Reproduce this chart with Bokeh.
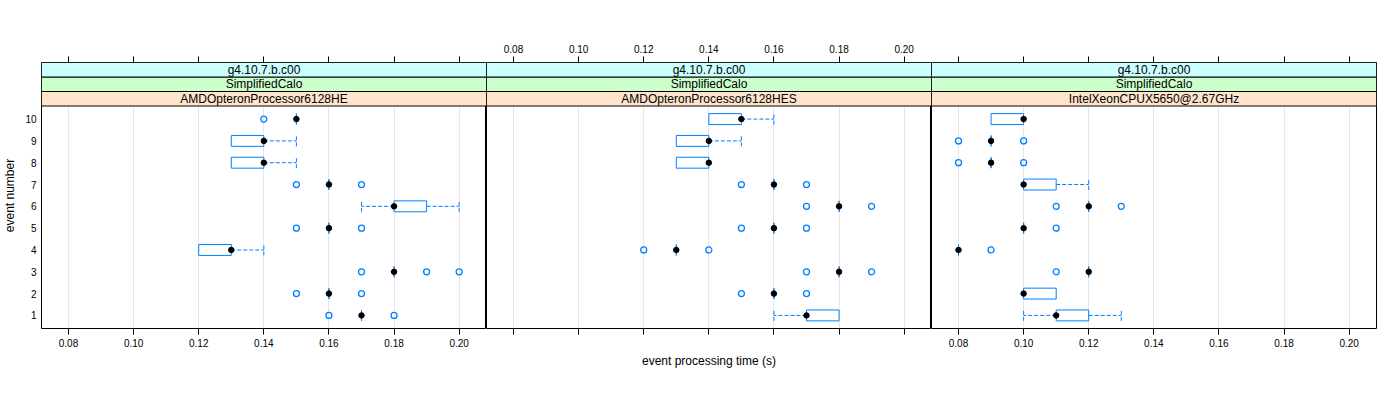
import numpy as np
from bokeh.plotting import figure
from bokeh.models import Range1d, FixedTicker, LinearAxis, PrintfTickFormatter, ColumnDataSource
from bokeh.layouts import row
from bokeh.embed import file_html
from bokeh.resources import INLINE
from bokeh.core.properties import value

# ---------------- data ----------------
events = [1, 2, 3, 4, 5, 6, 7, 8, 9, 10]
xticks = [0.08, 0.10, 0.12, 0.14, 0.16, 0.18, 0.20]
yticks = [1, 2, 3, 4, 5, 6, 7, 8, 9, 10]
strip_release = "g4.10.7.b.c00"
strip_test = "SimplifiedCalo"
processors = ["AMDOpteronProcessor6128HE", "AMDOpteronProcessor6128HES", "IntelXeonCPUX5650@2.67GHz"]
x_label = "event processing time (s)"
y_label = "event number"

# AMDOpteronProcessor6128HE
he_med = [0.17, 0.16, 0.18, 0.13, 0.16, 0.18, 0.16, 0.14, 0.14, 0.15]
he_q1 = [0.17, 0.16, 0.18, 0.12, 0.16, 0.18, 0.16, 0.13, 0.13, 0.15]
he_q3 = [0.17, 0.16, 0.18, 0.13, 0.16, 0.19, 0.16, 0.14, 0.14, 0.15]
he_wlo = [0.17, 0.16, 0.18, 0.12, 0.16, 0.17, 0.16, 0.13, 0.13, 0.15]
he_whi = [0.17, 0.16, 0.18, 0.14, 0.16, 0.20, 0.16, 0.15, 0.15, 0.15]
he_out_event = [1, 1, 2, 2, 3, 3, 3, 5, 5, 7, 7, 10]
he_out_time = [0.16, 0.18, 0.15, 0.17, 0.17, 0.19, 0.20, 0.15, 0.17, 0.15, 0.17, 0.14]

# AMDOpteronProcessor6128HES
hes_med = [0.17, 0.16, 0.18, 0.13, 0.16, 0.18, 0.16, 0.14, 0.14, 0.15]
hes_q1 = [0.17, 0.16, 0.18, 0.13, 0.16, 0.18, 0.16, 0.13, 0.13, 0.14]
hes_q3 = [0.18, 0.16, 0.18, 0.13, 0.16, 0.18, 0.16, 0.14, 0.14, 0.15]
hes_wlo = [0.16, 0.16, 0.18, 0.13, 0.16, 0.18, 0.16, 0.13, 0.13, 0.14]
hes_whi = [0.18, 0.16, 0.18, 0.13, 0.16, 0.18, 0.16, 0.14, 0.15, 0.16]
hes_out_event = [2, 2, 3, 3, 4, 4, 5, 5, 6, 6, 7, 7]
hes_out_time = [0.15, 0.17, 0.17, 0.19, 0.12, 0.14, 0.15, 0.17, 0.17, 0.19, 0.15, 0.17]

# IntelXeonCPUX5650@2.67GHz
xeon_med = [0.11, 0.10, 0.12, 0.08, 0.10, 0.12, 0.10, 0.09, 0.09, 0.10]
xeon_q1 = [0.11, 0.10, 0.12, 0.08, 0.10, 0.12, 0.10, 0.09, 0.09, 0.09]
xeon_q3 = [0.12, 0.11, 0.12, 0.08, 0.10, 0.12, 0.11, 0.09, 0.09, 0.10]
xeon_wlo = [0.10, 0.10, 0.12, 0.08, 0.10, 0.12, 0.10, 0.09, 0.09, 0.09]
xeon_whi = [0.13, 0.11, 0.12, 0.08, 0.10, 0.12, 0.12, 0.09, 0.09, 0.10]
xeon_out_event = [3, 4, 5, 6, 6, 8, 8, 9, 9]
xeon_out_time = [0.11, 0.09, 0.11, 0.11, 0.13, 0.08, 0.10, 0.08, 0.10]

# ---------------- styling / layout ----------------
FONT = "Liberation Sans"
BLUE = "#0080ff"
XMIN, XMAX = 0.0717, 0.2084
YMIN, YMAX_DATA = 0.4, 10.6
FRAME_W = 445
DATA_H = 222.5
STRIP_PX = 14.5
unit = DATA_H / (YMAX_DATA - YMIN)
strip_h = STRIP_PX / unit
YTOP = YMAX_DATA + 3 * strip_h
FRAME_H = int(round(DATA_H + 3 * STRIP_PX))
STRIP_COLORS = ["#ffe5cc", "#ccffcc", "#ccffff"]


def make_panel(idx, med, q1, q3, wlo, whi, oev, otime):
    left = idx == 0
    right = idx == 2
    p = figure(frame_width=FRAME_W, frame_height=FRAME_H,
               x_range=Range1d(XMIN, XMAX), y_range=Range1d(YMIN, YTOP),
               output_backend="svg", toolbar_location=None,
               x_axis_location=None, y_axis_location=None,
               min_border_left=40 if left else 0,
               min_border_right=8 if right else 0,
               min_border_top=62, min_border_bottom=68)
    p.outline_line_color = "black"
    p.outline_line_width = 1
    p.background_fill_color = "white"
    p.border_fill_color = "white"
    p.xgrid.ticker = FixedTicker(ticks=xticks)
    p.xgrid.grid_line_color = "#e6e6e6"
    p.ygrid.visible = False

    # axes
    for loc in ("below", "above"):
        ax = LinearAxis(ticker=FixedTicker(ticks=xticks),
                        formatter=PrintfTickFormatter(format="%.2f"))
        ax.axis_line_color = None
        ax.major_tick_in = 0
        ax.major_tick_out = 6
        ax.minor_tick_line_color = None
        ax.major_tick_line_color = "black"
        ax.major_label_text_font = FONT
        ax.major_label_text_font_size = "10px"
        ax.major_label_text_color = "black"
        ax.major_label_standoff = 4
        show_labels = (idx == 1) if loc == "above" else (idx != 1)
        if not show_labels:
            ax.major_label_text_alpha = 0
        if loc == "below" and idx == 1:
            ax.axis_label = x_label
            ax.axis_label_text_font = FONT
            ax.axis_label_text_font_size = "12px"
            ax.axis_label_text_font_style = "normal"
            ax.axis_label_text_color = "black"
            ax.axis_label_standoff = 19
        p.add_layout(ax, loc)
    if left:
        yax = LinearAxis(ticker=FixedTicker(ticks=yticks))
        yax.axis_line_color = None
        yax.major_tick_in = 0
        yax.major_tick_out = 0
        yax.minor_tick_line_color = None
        yax.major_label_standoff = 5
        yax.major_label_text_font = FONT
        yax.major_label_text_font_size = "10px"
        yax.major_label_text_color = "black"
        yax.axis_label = y_label
        yax.axis_label_text_font = FONT
        yax.axis_label_text_font_size = "12px"
        yax.axis_label_text_font_style = "normal"
        yax.axis_label_text_color = "black"
        yax.axis_label_standoff = 5
        p.add_layout(yax, "left")

    ev = np.array(events, dtype=float)
    med = np.array(med); q1 = np.array(q1); q3 = np.array(q3)
    wlo = np.array(wlo); whi = np.array(whi)
    hw = 0.25

    # whiskers
    up = whi > q3 + 1e-9
    lo = wlo < q1 - 1e-9
    p.segment(x0=q3[up], y0=ev[up], x1=whi[up], y1=ev[up],
              line_color=BLUE, line_dash="4 2", line_width=1)
    p.segment(x0=q1[lo], y0=ev[lo], x1=wlo[lo], y1=ev[lo],
              line_color=BLUE, line_dash="4 2", line_width=1)
    p.segment(x0=whi[up], y0=ev[up] - hw, x1=whi[up], y1=ev[up] + hw,
              line_color=BLUE, line_dash="4 2", line_width=1)
    p.segment(x0=wlo[lo], y0=ev[lo] - hw, x1=wlo[lo], y1=ev[lo] + hw,
              line_color=BLUE, line_dash="4 2", line_width=1)
    # boxes
    p.quad(left=q1, right=q3, bottom=ev - hw, top=ev + hw,
           fill_color=None, line_color=BLUE, line_width=1)
    # outliers
    p.scatter(x=otime, y=oev, marker="circle", size=6,
              fill_color=None, line_color=BLUE, line_width=1.3)
    # medians
    p.scatter(x=med, y=ev, marker="circle", size=5.5,
              fill_color="black", line_color="black")

    # strips
    bottoms = [YMAX_DATA + k * strip_h for k in range(3)]
    tops = [b + strip_h for b in bottoms]
    texts = [processors[idx], strip_test, strip_release]
    src = ColumnDataSource(dict(bottom=bottoms, top=tops, color=STRIP_COLORS,
                                text=texts, y=[(b + t) / 2 for b, t in zip(bottoms, tops)],
                                x=[(XMIN + XMAX) / 2] * 3))
    p.quad(left=XMIN, right=XMAX, bottom="bottom", top="top", fill_color="color",
           line_color="black", line_width=1, source=src)
    p.text(x="x", y="y", text="text", source=src, text_align="center",
           text_baseline="middle", text_font=value(FONT), text_font_size="12px",
           text_color="black")
    return p


panels = [
    make_panel(0, he_med, he_q1, he_q3, he_wlo, he_whi, he_out_event, he_out_time),
    make_panel(1, hes_med, hes_q1, hes_q3, hes_wlo, hes_whi, hes_out_event, hes_out_time),
    make_panel(2, xeon_med, xeon_q1, xeon_q3, xeon_wlo, xeon_whi, xeon_out_event, xeon_out_time),
]

layout = row(*panels, spacing=0)
open("out.html", "w").write(file_html(layout, INLINE))
